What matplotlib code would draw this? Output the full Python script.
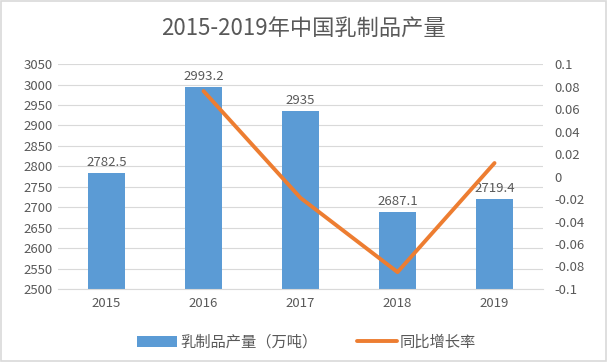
import matplotlib.pyplot as plt
from matplotlib.patches import Rectangle
import numpy as np

plt.rcParams["font.family"] = ["Noto Sans CJK SC", "DejaVu Sans"]

years = ["2015", "2016", "2017", "2018", "2019"]
output = [2782.5, 2993.2, 2935, 2687.1, 2719.4]
growth_years = ["2016", "2017", "2018", "2019"]
growth = [0.076, -0.019, -0.085, 0.012]

bar_color = "#5B9BD5"
line_color = "#ED7D31"
text_color = "#595959"
grid_color = "#D9D9D9"

fig = plt.figure(figsize=(6.07, 3.62), dpi=100)
ax = fig.add_axes([0.0956, 0.2017, 0.799, 0.6213])
ax2 = ax.twinx()

x = np.arange(len(years))
bars = ax.bar(x, output, width=0.39, color=bar_color, zorder=2,
              label="乳制品产量（万吨）")
for xi, v in zip(x, output):
    ax.text(xi, v + 10, f"{v:g}", ha="center", va="bottom",
            fontsize=9.5, color=text_color)

ax.set_xlim(-0.5, len(years) - 0.5)
ax.set_ylim(2500, 3050)
ax.set_yticks(np.arange(2500, 3051, 50))
ax.set_xticks(x)
ax.set_xticklabels(years)
ax.yaxis.grid(True, color=grid_color, lw=0.8, zorder=0)
ax.set_axisbelow(True)

gx = [years.index(y) for y in growth_years]
line, = ax2.plot(gx, growth, color=line_color, lw=2.8, zorder=3,
                 label="同比增长率", solid_capstyle="round")
ax2.set_ylim(-0.1, 0.1)
rticks = np.round(np.arange(-0.1, 0.101, 0.02), 2)
ax2.set_yticks(rticks)
ax2.set_yticklabels([f"{t:g}" for t in rticks])

for a in (ax, ax2):
    for s in a.spines.values():
        s.set_visible(False)
    a.tick_params(length=0, colors=text_color, labelsize=9.5)
ax.spines["bottom"].set_visible(True)
ax.spines["bottom"].set_color(grid_color)
ax.tick_params(axis="x", pad=6)
ax.tick_params(axis="y", pad=4)
ax2.tick_params(axis="y", pad=8)

fig.text(0.5, 0.918, "2015-2019年中国乳制品产量", ha="center", va="center",
         fontsize=16, color=text_color)

fig.legend(handles=[bars, line], loc="center", bbox_to_anchor=(0.505, 0.055),
           ncol=2, frameon=False, fontsize=11, labelcolor=text_color,
           handlelength=2.6, handletextpad=0.2, columnspacing=2.6)

fig.patches.append(Rectangle((0.002, 0.003), 0.996, 0.994, transform=fig.transFigure,
                             fill=False, edgecolor="#D9D9D9", lw=1.2))

fig.savefig("out.png", dpi=100, facecolor="white")
